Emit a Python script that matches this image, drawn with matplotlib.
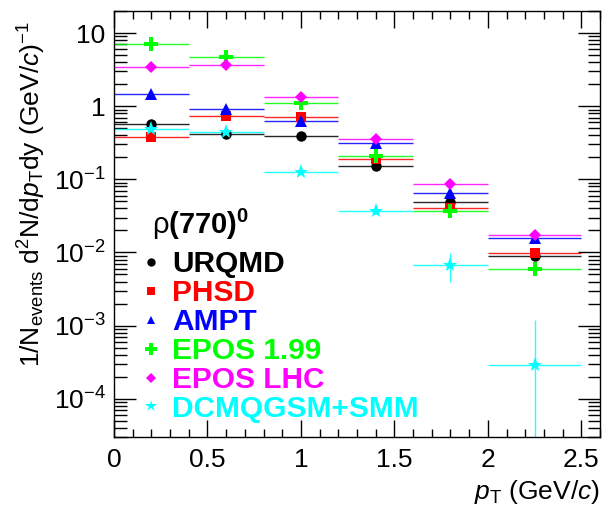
import matplotlib
matplotlib.use("Agg")
import matplotlib.pyplot as plt
import numpy as np
from matplotlib.lines import Line2D
from matplotlib.ticker import MultipleLocator, FuncFormatter, LogLocator, NullFormatter

plt.rcParams['font.family'] = ['Liberation Sans', 'DejaVu Sans']
plt.rcParams['mathtext.fontset'] = 'custom'
plt.rcParams['mathtext.rm'] = 'Liberation Sans'
plt.rcParams['mathtext.it'] = 'Liberation Sans:italic'
plt.rcParams['mathtext.bf'] = 'Liberation Sans:bold'

# Data
bin_edges = [0.0, 0.4, 0.8, 1.2, 1.6, 2.0, 2.5]
pt_centers = [0.2, 0.6, 1.0, 1.4, 1.8, 2.25]
models = ["URQMD", "PHSD", "AMPT", "EPOS 1.99", "EPOS LHC", "DCMQGSM+SMM"]
colors = ["#000000", "#ff0000", "#0000ff", "#00ff00", "#ff00ff", "#00ffff"]
markers = ["o", "s", "^", "P", "D", "*"]

urqmd = [0.575, 0.41, 0.39, 0.154, 0.049, 0.0089]
phsd = [0.38, 0.74, 0.72, 0.188, 0.041, 0.0098]
ampt = [1.45, 0.92, 0.62, 0.31, 0.0645, 0.0156]
epos199 = [7.1, 4.7, 1.12, 0.21, 0.0367, 0.006]
eposlhc = [3.44, 3.6, 1.33, 0.36, 0.0857, 0.0173]
dcmqgsm = [0.48, 0.44, 0.125, 0.0367, 0.0068, 0.00029]
dcmqgsm_err = [0.0, 0.0, 0.0, 0.0, 0.0029, 0.0009]

series = [urqmd, phsd, ampt, epos199, eposlhc, dcmqgsm]
errs = [None, None, None, None, None, dcmqgsm_err]
msizes = [7.5, 7, 8, 10, 6.5, 11]

fig = plt.figure(figsize=(6.04, 5.12), dpi=100)
ax = fig.add_axes([0.1887, 0.1465, 0.8047, 0.832])

edges = np.array(bin_edges)
centers = np.array(pt_centers)
xlo = centers - edges[:-1]
xhi = edges[1:] - centers

for vals, err, col in zip(series, errs, colors):
    yerr = None if err is None else np.array(err)
    ax.errorbar(centers, vals, xerr=[xlo, xhi], yerr=yerr, fmt='none',
                ecolor=col, elinewidth=1.0, capsize=0, alpha=0.85)
for vals, col, mk, ms in zip(series, colors, markers, msizes):
    ax.plot(centers, vals, linestyle='none', marker=mk, color=col,
            markersize=ms, markeredgewidth=0)

ax.set_yscale('log')
ax.set_xlim(0, 2.6)
ax.set_ylim(3e-5, 20)

ax.xaxis.set_major_locator(MultipleLocator(0.5))
ax.xaxis.set_minor_locator(MultipleLocator(0.1))
ax.xaxis.set_major_formatter(FuncFormatter(lambda v, p: "0" if abs(v) < 1e-9 else ("%g" % v)))

def yfmt(v, p):
    e = int(round(np.log10(v)))
    if e == 1:
        return "10"
    if e == 0:
        return "1"
    return r"$10^{%d}$" % e
ax.yaxis.set_major_locator(LogLocator(base=10, numticks=20))
ax.yaxis.set_minor_locator(LogLocator(base=10, subs=np.arange(2, 10), numticks=50))
ax.yaxis.set_major_formatter(FuncFormatter(yfmt))
ax.yaxis.set_minor_formatter(NullFormatter())

ax.tick_params(axis='both', which='both', direction='in', top=True, right=True,
               labelsize=19, width=1)
ax.tick_params(axis='x', which='major', length=12, pad=8)
ax.tick_params(axis='x', which='minor', length=6)
ax.tick_params(axis='y', which='major', length=16, pad=6)
ax.tick_params(axis='y', which='minor', length=9)
for s in ax.spines.values():
    s.set_linewidth(1)

ax.set_xlabel(r"$p_{\mathrm{T}}$ (GeV/$c$)", fontsize=19, loc='right')
ax.set_ylabel(r"1/N$_{\mathrm{events}}$ d$^{2}$N/d$p_{\mathrm{T}}$dy (GeV/$c$)$^{-1}$",
              fontsize=19, loc='top')
ax.yaxis.set_label_coords(-0.135, 0.975)

handles = [Line2D([], [], linestyle='none', marker=mk, color=col, markersize=ms * 0.8,
                  markeredgewidth=0) for col, mk, ms in zip(colors, markers, msizes)]
leg = ax.legend(handles, models, loc='upper left', bbox_to_anchor=(0.058, 0.438),
                frameon=False, labelcolor=colors, prop={'weight': 'bold', 'size': 21.5},
                handlelength=0.6, handletextpad=0.4, labelspacing=0.03, borderpad=0,
                borderaxespad=0)

ax.text(0.078, 0.5, r"$\mathrm{\rho}\mathbf{(770)}^{\mathbf{0}}$", transform=ax.transAxes,
        fontsize=21, ha='left', va='center')

fig.savefig("out.png", dpi=100)
